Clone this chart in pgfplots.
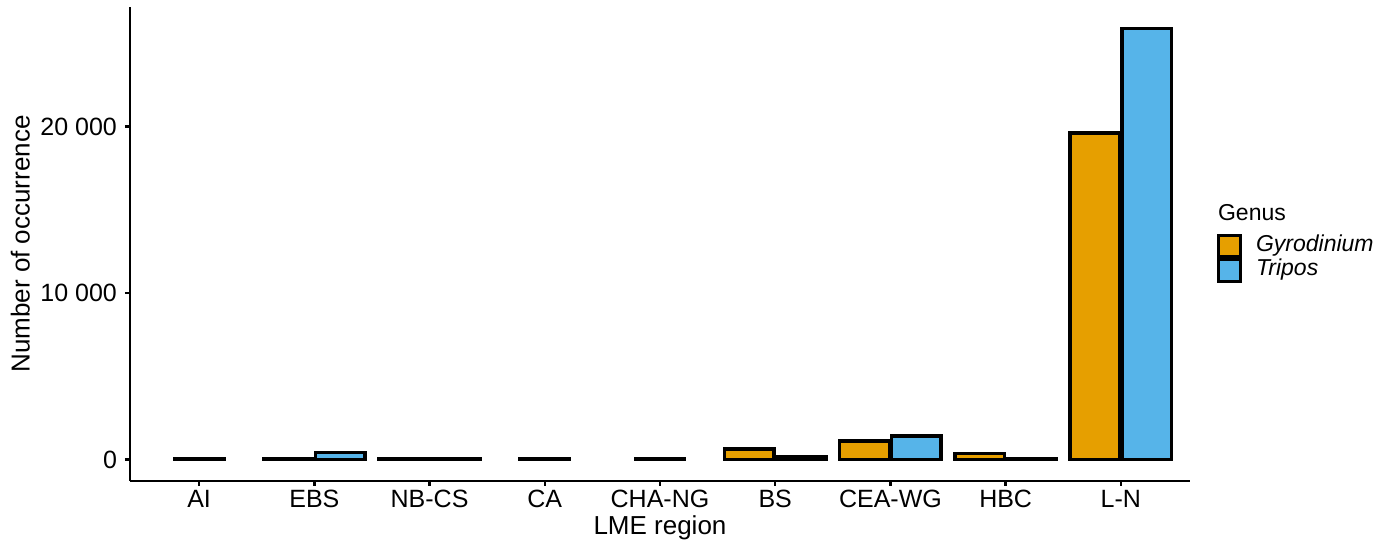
\documentclass[border=0pt]{standalone}
\usepackage{pgfplots}
\pgfplotsset{compat=1.18}
\usepackage{fontspec}
\setmainfont{Liberation Sans}
\definecolor{gyro}{HTML}{E69F00}
\definecolor{trip}{HTML}{56B4E9}
\begin{document}
\begin{tikzpicture}
\useasboundingbox (-65pt,-34.5pt) rectangle (629.5pt,240.5pt);
\begin{axis}[
  scale only axis, width=530pt, height=237pt,
  xmin=-0.6, xmax=8.6, ymin=-1295, ymax=27195,
  axis x line=bottom, axis y line=left,
  axis line style={line width=1.4pt, -},
  xtick={0,1,2,3,4,5,6,7,8},
  xticklabels={AI,EBS,NB-CS,CA,CHA-NG,BS,CEA-WG,HBC,L-N},
  ytick={0,10000,20000},
  yticklabels={0,10 000,20 000},
  tick style={line width=1.2pt, black},
  major tick length=2.5pt,
  tick align=outside,
  ticklabel style={font=\fontsize{12.5}{15}\selectfont, text=black},
  xticklabel style={inner ysep=2pt},
  yticklabel style={xshift=-0.5pt},
  xlabel={LME region},
  ylabel={Number of occurrence},
  every axis x label/.style={at={(axis description cs:0.5,-0.113)}, anchor=base, font=\fontsize{13}{15}\selectfont},
  every axis y label/.style={at={(axis description cs:-0.1035,0.5)}, rotate=90, anchor=center, font=\fontsize{13}{15}\selectfont},
  legend cell align=left,
  legend style={draw=none, fill=none, font=\fontsize{11.5}{13}\selectfont,
    at={(axis description cs:1.0248,0.5747)}, anchor=north west,
    row sep=0pt, inner sep=0pt,
    /tikz/every odd column/.append style={column sep=5pt},
    nodes={inner ysep=0.2pt, text height=8.6pt, text depth=3.3pt}},
  legend image code/.code={\draw[line width=1.5pt] (0pt,-5.4pt) rectangle (11.2pt,5.4pt);},
]
\addlegendimage{empty legend}
\addlegendentry{\hspace{-19pt}\raisebox{3pt}{Genus}}
\addplot[ybar, bar width=0.43, bar shift=-0.225, fill=gyro, draw=black, line width=1.7pt]
  coordinates {(1,30) (2,40) (5,630) (6,1120) (7,360) (8,19610)};
\addlegendentry{\itshape Gyrodinium}
\addplot[ybar, bar width=0.43, bar shift=0.225, fill=trip, draw=black, line width=1.7pt]
  coordinates {(1,400) (2,40) (5,150) (6,1400) (7,60) (8,25900)};
\addlegendentry{\itshape Tripos}
\addplot[ybar, bar width=0.43, bar shift=0, fill=gyro, draw=black, line width=1.7pt, forget plot]
  coordinates {(0,40) (3,40) (4,40)};
\end{axis}
\end{tikzpicture}
\end{document}
